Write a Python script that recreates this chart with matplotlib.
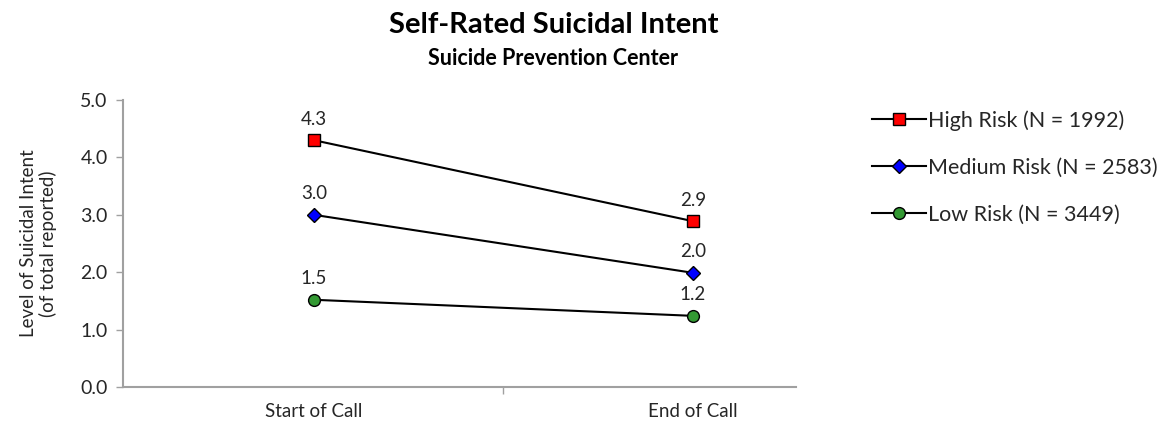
import matplotlib.pyplot as plt

# category names and series
calls = ['Start of Call', 'End of Call']
high_risk = [4.30, 2.89]
medium_risk = [3.00, 1.99]
low_risk = [1.52, 1.24]
series_names = ['High Risk (N = 1992)', 'Medium Risk (N = 2583)', 'Low Risk (N = 3449)']

plt.rcParams['font.family'] = ['Lato', 'DejaVu Sans']
text_col = '#262626'

fig = plt.figure(figsize=(11.75, 4.22), dpi=100)
ax = fig.add_axes([0.1047, 0.0829, 0.5727, 0.680])

xs = list(range(len(calls)))
styles = [('s', '#ff0000', 8.5), ('D', '#0000ff', 7), ('o', '#339933', 8.5)]
handles = []
for vals, name, (mk, col, ms) in zip([high_risk, medium_risk, low_risk], series_names, styles):
    h, = ax.plot(xs, vals, color='black', lw=1.5, marker=mk, markersize=ms,
                 markerfacecolor=col, markeredgecolor='black', markeredgewidth=1,
                 label=name, zorder=3)
    handles.append(h)
    for x, v in zip(xs, vals):
        ax.annotate(f'{v:.1f}', (x, v), xytext=(0, 9), textcoords='offset points',
                    ha='center', va='bottom', fontsize=13.5, color=text_col)

ax.set_ylim(0, 5)
ax.set_yticks([0, 1, 2, 3, 4, 5])
ax.set_yticklabels([f'{t:.1f}' for t in range(6)], fontsize=14, color=text_col)
ax.set_xlim(-0.504, 1.272)
ax.set_xticks([0.5])
ax.set_xticklabels([''])
for x, lab in zip(xs, calls):
    ax.text(x, -0.28, lab, ha='center', va='top', fontsize=13.5, color=text_col)

for s in ['top', 'right']:
    ax.spines[s].set_visible(False)
for s in ['left', 'bottom']:
    ax.spines[s].set_color('#a0a0a0')
    ax.spines[s].set_linewidth(1.5)
ax.tick_params(axis='both', color='#a0a0a0', length=5, width=1)
ax.tick_params(axis='y', pad=6)

ax.set_ylabel('Level of Suicidal Intent\n(of total reported)', fontsize=13.5,
              color=text_col, labelpad=17, linespacing=1.1)

fig.text(0.471, 0.94, 'Self-Rated Suicidal Intent', ha='center', va='center',
         fontsize=21, fontweight='bold', color='black')
fig.text(0.471, 0.862, 'Suicide Prevention Center', ha='center', va='center',
         fontsize=15.5, fontweight='bold', color='black')

leg = fig.legend(handles=handles, loc='upper left', bbox_to_anchor=(0.7255, 0.785),
                 frameon=False, fontsize=15.5, handlelength=2.5, handletextpad=0.1,
                 labelspacing=1.25, labelcolor=text_col)

fig.savefig('out.png', dpi=100, facecolor='white')
